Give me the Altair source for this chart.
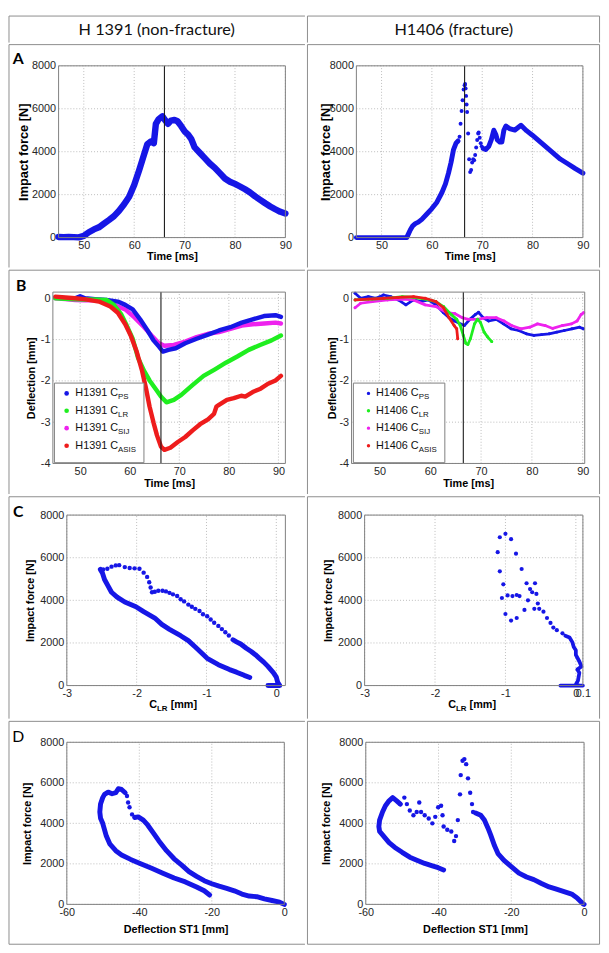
import altair as alt
import pandas as pd

# ------------------------------------------------------------------ data
# Panel A  - impact force [N] vs time [ms]
A_L_t = [45, 46, 47, 48, 49, 50, 51, 52, 53, 54, 55, 56, 57, 58, 59, 60, 61, 62,
         62.6, 63.3, 63.9, 64.3, 64.8, 65.6, 66.2, 66.7, 67.3, 68.0, 68.6, 69.3,
         70, 70.7, 71.3, 72, 73, 74, 75, 76, 77, 78, 79, 80, 81, 82, 83, 84, 85, 86, 87, 88, 89, 90]
A_L_F = [30, 20, 30, 20, 10, 80, 250, 380, 480, 650, 820, 1000, 1250, 1550, 1900, 2450, 3150, 3900,
         4350, 4480, 4400, 5300, 5500, 5650, 5450, 5300, 5450, 5480, 5420, 5200,
         4950, 4800, 4600, 4200, 3950, 3700, 3450, 3250, 3000, 2750, 2600, 2500, 2380, 2250, 2100, 1920,
         1760, 1600, 1450, 1320, 1200, 1120]

A_R_t1 = [45, 47, 49, 51, 53, 55, 55.3, 55.7, 56.2, 56.7, 57.3, 58, 59, 60, 61, 62, 62.7, 63.3, 63.8, 64.3, 64.8, 65.2]
A_R_F1 = [0, 0, 0, 0, 0, 0, 150, 350, 550, 650, 720, 850, 1100, 1350, 1650, 2100, 2500, 3000, 3500, 4100, 4400, 4500]
A_R_t2 = [65.5, 65.7, 65.9, 66.1, 66.3, 66.5, 66.6, 66.7, 66.8, 66.9, 67.0, 67.2, 67.4, 67.6, 67.8, 68.0,
          68.2, 68.4, 68.6, 68.8, 69.0, 69.2, 69.3, 69.5, 69.7, 69.9]
A_R_F2 = [4700, 5300, 5900, 6400, 6900, 7100, 7150, 6950, 6600, 6200, 5850, 4850, 3650, 3050, 3150, 3500,
          3650, 3600, 3850, 4200, 4550, 4850, 4900, 4650, 4400, 4250]
A_R_t3 = [70.2, 70.7, 71.3, 71.8, 72.3, 72.7, 73.0, 73.5, 73.9, 74.3, 74.7, 75.4, 76.5, 77.7, 78.8, 79.9,
          81.0, 82.5, 84.0, 85.5, 87.0, 88.5, 90.0]
A_R_F3 = [4150, 4100, 4250, 4550, 5000, 4800, 4550, 4450, 4450, 5000, 5200, 5080, 5010, 5230, 4980, 4780,
          4560, 4260, 3960, 3660, 3440, 3210, 3000]

# Panel B  - deflection [mm] vs time [ms]
B_L_PS_t = [45, 47, 49, 50, 51, 53, 55.3, 57.6, 59.1, 60.6, 62.1, 63.6, 64.8, 65.9, 66.7, 67.8, 69.3, 71.2,
            73.5, 75.8, 78, 80.3, 82.6, 84.8, 87.1, 89.4, 90.5]
B_L_PS_v = [0.02, 0, 0, 0.05, 0, -0.02, -0.04, -0.08, -0.16, -0.27, -0.51, -0.78, -1.02, -1.17, -1.29, -1.25,
            -1.21, -1.09, -0.98, -0.88, -0.78, -0.70, -0.59, -0.51, -0.43, -0.41, -0.45]
B_L_SIJ_t = [45, 47, 49, 51, 53, 54.5, 56.8, 59.1, 61.0, 62.9, 64.4, 65.9, 67.0, 68.9, 71.2, 73.5, 75.8, 78.0,
             80.3, 82.6, 84.8, 87.1, 89.4, 90.5]
B_L_SIJ_v = [0.0, -0.02, -0.04, -0.05, -0.05, -0.06, -0.16, -0.27, -0.47, -0.70, -0.90, -1.09, -1.15, -1.13,
             -1.05, -0.94, -0.86, -0.82, -0.74, -0.66, -0.63, -0.61, -0.59, -0.61]
B_L_LR_t = [45, 48, 51, 53, 55.3, 56.8, 58.3, 59.4, 60.6, 61.7, 62.9, 64.0, 65.2, 66.3, 67.4, 68.9, 70.4, 72.6,
            74.9, 77.2, 79.4, 81.7, 84.0, 86.3, 88.6, 90.5]
B_L_LR_v = [0.0, -0.02, -0.03, -0.03, -0.04, -0.16, -0.39, -0.66, -0.98, -1.45, -1.76, -1.99, -2.19, -2.38,
            -2.52, -2.46, -2.34, -2.11, -1.88, -1.72, -1.56, -1.41, -1.25, -1.13, -1.02, -0.90]
B_L_ASIS_t = [45, 47, 49, 50.8, 53.8, 56.1, 57.6, 59.1, 60.2, 61.4, 62.5, 63.3, 64.0, 64.8, 65.5, 66.3, 67.0,
              68.2, 69.7, 71.2, 72.7, 74.2, 75.8, 77.0, 77.5, 78.0, 79.6, 81.0, 82.5, 83.3, 84.8, 86.4, 87.9,
              89.4, 90.5]
B_L_ASIS_v = [0.04, 0.02, 0.0, -0.02, -0.08, -0.20, -0.35, -0.63, -0.90, -1.29, -1.76, -2.19, -2.62, -3.01,
              -3.32, -3.59, -3.67, -3.62, -3.48, -3.36, -3.20, -3.05, -2.93, -2.80, -2.62, -2.58, -2.46, -2.42,
              -2.36, -2.38, -2.27, -2.19, -2.07, -1.99, -1.88]

B_R_PS_t = [45.2, 46.3, 47.8, 49.3, 50.8, 52.2, 53.7, 55.2, 56.7, 58.2, 59.6, 61.1, 62.6, 63.7, 64.8, 65.9,
            66.7, 67.8, 68.9, 69.5, 70.4, 71.5, 73.0, 74.4, 75.9, 77.4, 78.9, 80.4, 81.9, 83.4, 84.9, 86.4,
            87.9, 89.4, 90.1]
B_R_PS_v = [0.12, 0.0, 0.04, 0.0, 0.08, 0.04, -0.04, -0.16, -0.04, -0.08, -0.04, -0.16, -0.35, -0.47, -0.55,
            -0.62, -0.66, -0.51, -0.39, -0.34, -0.47, -0.55, -0.51, -0.62, -0.74, -0.78, -0.86, -0.90, -0.88,
            -0.86, -0.82, -0.78, -0.74, -0.70, -0.74]
B_R_SIJ_t = [45.2, 46.3, 48.6, 51.6, 54.5, 56.7, 59.0, 61.1, 63.3, 64.8, 66.3, 67.4, 69.3, 71.1, 73.0, 74.5,
             76.0, 77.8, 79.6, 81.1, 82.6, 84.1, 86.0, 87.8, 88.9, 89.7, 90.2]
B_R_SIJ_v = [-0.23, -0.12, -0.08, -0.04, -0.02, -0.04, -0.16, -0.20, -0.35, -0.37, -0.47, -0.51, -0.51, -0.47,
             -0.47, -0.55, -0.66, -0.74, -0.70, -0.62, -0.66, -0.73, -0.66, -0.62, -0.55, -0.39, -0.35]
B_R_LR_t = [45.2, 48.6, 51.6, 54.5, 56.7, 59.0, 61.1, 62.6, 64.1, 65.2, 65.9, 66.5, 67.0, 67.4, 67.9, 68.7,
            69.3, 69.9, 70.6, 71.3, 72.1]
B_R_LR_v = [-0.04, -0.02, 0.0, 0.04, 0.02, -0.02, -0.08, -0.20, -0.39, -0.51, -0.66, -0.90, -1.09, -1.12,
            -0.98, -0.62, -0.51, -0.59, -0.82, -0.94, -1.05]
B_R_ASIS_t = [45.2, 47.8, 50.8, 53.7, 56.7, 59.0, 61.1, 62.6, 63.7, 64.7, 65.2, 65.4]
B_R_ASIS_v = [-0.04, -0.02, 0.0, 0.02, 0.04, 0.0, -0.08, -0.23, -0.47, -0.66, -0.74, -0.98]

# Panel C  - impact force [N] vs C_LR [mm]
C_L_x1 = [-2.52, -2.49, -2.46, -2.41, -2.36, -2.28, -2.17, -2.01, -1.90, -1.74, -1.64, -1.53, -1.37, -1.26,
          -1.16, -0.99, -0.83, -0.67, -0.57, -0.46, -0.38]
C_L_y1 = [5450, 5280, 4980, 4680, 4380, 4150, 3920, 3700, 3470, 3170, 2870, 2640, 2340, 2110, 1810, 1280,
          980, 750, 630, 480, 380]
C_L_x2 = [-0.12, -0.05, 0.0, 0.05, 0.02, 0.0, -0.04, -0.08, -0.12, -0.18, -0.25, -0.30, -0.36, -0.43, -0.51,
          -0.57, -0.62]
C_L_y2 = [0, 0, 0, 0, 150, 400, 600, 750, 900, 1100, 1300, 1450, 1600, 1750, 1950, 2050, 2150]
C_L_xd = [-0.68, -0.73, -0.78, -0.83, -0.89, -0.94, -0.99, -1.05, -1.10, -1.16, -1.21, -1.26, -1.32, -1.37,
          -1.42, -1.48, -1.53, -1.58, -1.63, -1.69, -1.74, -1.78, -1.80, -1.82, -1.85, -1.90, -1.96, -2.03,
          -2.10, -2.17, -2.25, -2.30, -2.36, -2.42, -2.48]
C_L_yd = [2350, 2500, 2650, 2800, 2950, 3100, 3250, 3350, 3500, 3600, 3700, 3800, 3950, 4050, 4200, 4280,
          4350, 4420, 4450, 4450, 4400, 4380, 4600, 4850, 5100, 5300, 5480, 5500, 5520, 5560, 5650, 5640,
          5580, 5480, 5450]

C_R_x1 = [-0.22, -0.1, 0.0, 0.1, 0.05, 0.0, 0.03, 0.05, 0.02, 0.08, 0.05, 0.0, 0.0, -0.03, -0.05, -0.09, -0.15]
C_R_y1 = [0, 0, 0, 0, 0, 50, 230, 600, 750, 900, 1130, 1440, 1660, 1810, 2040, 2260, 2340]
C_R_xd = [-0.19, -0.27, -0.32, -0.36, -0.41, -0.46, -0.52, -0.59, -0.54, -0.56, -0.62, -0.65, -0.58, -0.70,
          -0.68, -0.73, -0.77, -0.85, -0.92, -1.0, -1.08, -1.11, -1.08, -1.05, -1.03, -0.97, -0.90, -0.84,
          -0.80, -0.84, -0.92, -1.0]
C_R_yd = [2450, 2600, 2720, 2940, 3170, 3470, 3600, 3600, 3850, 4300, 4380, 4530, 4800, 4800, 4000, 3550,
          5470, 6190, 6870, 7120, 6960, 6260, 5360, 4110, 4750, 4230, 4200, 4250, 4200, 3170, 3050, 3360]

# Panel D  - impact force [N] vs deflection ST1 [mm]
D_L_x1 = [0, -1.3, -3.4, -5.5, -7.6, -9.7, -11.7, -13.8, -15.9, -18.0, -20.0, -22.1, -24.2, -26.3, -28.3,
          -30.4, -32.5, -34.6, -36.1, -37.7, -38.9, -40.3, -41.3]
D_L_y1 = [0, 110, 190, 270, 380, 410, 510, 670, 790, 900, 1020, 1170, 1380, 1620, 1940, 2250, 2650, 3130,
          3520, 3920, 4160, 4320, 4290]
D_L_xd = [-42.0, -42.7, -43.1, -43.4]
D_L_yd = [4440, 4790, 5030, 5350]
D_L_x2 = [-43.9, -44.9, -45.8, -46.5, -47.5, -48.6, -49.6, -50.1, -50.7, -50.9, -50.7, -50.1, -49.1, -48.1,
          -46.5, -44.9, -42.4, -39.8, -36.6, -33.5, -30.4, -27.3, -24.2, -22.1, -20.6]
D_L_y2 = [5510, 5670, 5710, 5510, 5460, 5540, 5430, 5270, 4950, 4560, 4250, 4000, 3370, 2970, 2650, 2440,
          2220, 2020, 1780, 1540, 1300, 1110, 860, 670, 460]

D_R_x1 = [0, -0.3, -1.9, -3.4, -5.5, -7.6, -9.6, -11.7, -13.8, -15.8, -17.9, -20.0, -22.0, -23.6, -24.6,
          -25.7, -26.4, -27.4, -28.4, -29.8]
D_R_y1 = [0, 30, 320, 510, 630, 750, 860, 1030, 1220, 1350, 1540, 1860, 2170, 2490, 2890, 3440, 3760, 4160,
          4400, 4510]
D_R_xd = [-30.5, -30.8, -31.3, -31.9, -32.4, -32.9, -33.4, -33.9, -34.1, -34.7, -35.2, -35.7, -36.5, -37.6,
          -38.6, -38.9, -39.3, -40.1, -40.9, -41.7, -42.7, -43.8, -44.8, -45.3, -46.0, -46.9, -47.9, -48.7,
          -49.4, -50.5]
D_R_yd = [4560, 4950, 5510, 6220, 6920, 7170, 7090, 6380, 5430, 4160, 3370, 3130, 3600, 3680, 3840, 4400,
          4870, 4790, 4320, 4000, 4240, 4400, 4560, 5030, 4560, 4400, 4630, 4950, 5270, 4950]
D_R_x2 = [-50.5, -51.5, -52.6, -53.6, -54.6, -55.4, -56.2, -56.4, -56.2, -55.1, -53.6, -52.0, -50.0, -47.9,
          -45.8, -43.8, -41.7, -40.1, -38.6]
D_R_y2 = [4950, 5110, 5270, 5110, 4870, 4560, 4160, 3840, 3600, 3370, 3050, 2810, 2570, 2330, 2170, 2020,
          1900, 1810, 1700]

# Text
HEAD_L = "H 1391 (non-fracture)"
HEAD_R = "H1406 (fracture)"
T_TIME = "Time [ms]"
T_FORCE = "Impact force [N]"
T_DEFL = "Deflection [mm]"
T_ST1 = "Deflection ST1 [mm]"
LEG_SUBS = ["PS", "LR", "SIJ", "ASIS"]

# ------------------------------------------------------------------ style
BLUE, GREEN, MAGENTA, RED = "#1616e6", "#1fee1f", "#ee22ee", "#ee1c1c"
FRAME = "#7f7f7f"
GRIDC = "#bcbcbc"
CELLC = "#8c8c8c"
LABEL_C = "#262626"
AX_FONT = "Liberation Sans"
HEAD_FONT = "Lato"
SX = 597 / 607.0
SY = 932 / 951.5
DUMMY = pd.DataFrame({"d": [0]})
LABEL_EXPR = "replace(datum.label, '\u2212', '-')"


def seg_frame(segments):
    rows = []
    for sid, (kind, xs, ys) in enumerate(segments):
        for x, y in zip(xs, ys):
            rows.append({"x": x, "y": y, "seg": sid, "kind": kind, "idx": len(rows)})
    return pd.DataFrame(rows)


def rule(x1, y1, x2, y2, color=CELLC, width=1):
    return alt.Chart(DUMMY).mark_rule(color=color, strokeWidth=width).encode(
        x=alt.value(x1), x2=alt.value(x2), y=alt.value(y1), y2=alt.value(y2))


def text(t, x, y, size, weight="normal", font=AX_FONT, align="left", color="#000"):
    return alt.Chart(DUMMY).mark_text(text=t, align=align, baseline="middle", font=font,
                                      fontSize=size, fontWeight=weight, color=color).encode(
        x=alt.value(x), y=alt.value(y))


def cell_lines(W, H, side, last):
    lines = [(0, 0, W, 0), (0, 0, 0, H)]
    if side == "R":
        lines.append((W, 0, W, H))
    if last:
        lines.append((0, H, W, H))
    return [rule(*l) for l in lines]


def build_panel(p):
    cx0, cy0, cx1, cy1 = p["cell"]
    W = (cx1 - cx0) * SX
    H = (cy1 - cy0) * SY

    def lx(X):
        return (X - cx0) * SX

    def ly(Y):
        return (Y - cy0) * SY

    px0, py0, px1, py1 = p["plot"]
    pl, pr, pt, pb = lx(px0), lx(px1), ly(py0), ly(py1)

    common = dict(format="~r", labelExpr=LABEL_EXPR, grid=False, domain=False, ticks=False,
                  labelFont=AX_FONT, labelFontSize=11, labelColor=LABEL_C, labelPadding=3,
                  labelFlush=False, labelOverlap=False)
    xkw = dict(common, values=p["xticks"], offset=pb - H, labelPadding=2)
    if p.get("xtitle"):
        xkw.update(title=p["xtitle"], titleFont=AX_FONT, titleFontSize=11, titleFontWeight="bold",
                   titleColor="#000", titleX=(pl + pr) / 2, titleY=ly(p["xtitle_y"]) - pb,
                   titleAlign="center", titleBaseline="middle")
    else:
        xkw["title"] = None
    ykw = dict(common, values=p["yticks"], offset=-pl, title=p["ytitle"], titleFont=AX_FONT,
               titleFontSize=p["ytitle_size"], titleFontWeight="bold", titleColor="#000",
               titleX=lx(p["ytitle_x"]) - pl, titleY=(pt + pb) / 2, titleAngle=270,
               titleAlign="center", titleBaseline="middle")
    X = alt.X("x:Q", scale=alt.Scale(domain=p["xdom"], range=[pl, pr], nice=False, zero=False),
              axis=alt.Axis(**xkw))
    Y = alt.Y("y:Q", scale=alt.Scale(domain=p["ydom"], range=[pb, pt], nice=False, zero=False),
              axis=alt.Axis(**ykw))
    x0, x1 = p["xdom"]
    y0, y1 = p["ydom"]

    layers = []
    # dotted grid at the tick values, drawn through the scales
    gx = pd.DataFrame({"x": p["xticks"], "y": [y0] * len(p["xticks"]), "y2": [y1] * len(p["xticks"])})
    gy = pd.DataFrame({"y": p["yticks"], "x": [x0] * len(p["yticks"]), "x2": [x1] * len(p["yticks"])})
    layers.append(alt.Chart(gx).mark_rule(color=GRIDC, strokeDash=[1, 2], strokeWidth=1).encode(
        x=X, y=Y, y2="y2:Q"))
    layers.append(alt.Chart(gy).mark_rule(color=GRIDC, strokeDash=[1, 2], strokeWidth=1).encode(
        x=X, x2="x2:Q", y=Y))

    for s in p["series"]:
        df = seg_frame(s["segments"])
        kinds = set(df["kind"])
        if "line" in kinds:
            layers.append(alt.Chart(df).transform_filter("datum.kind == 'line'").mark_line(
                color=s["color"], strokeWidth=s["lw"], strokeCap="round", strokeJoin="round").encode(
                x=X, y=Y, detail="seg:N", order="idx:Q"))
            if s.get("vdots"):
                layers.append(alt.Chart(df).transform_filter("datum.kind == 'line'").mark_circle(
                    color=s["color"], size=s["vdots"], opacity=1).encode(x=X, y=Y))
        if "dot" in kinds:
            layers.append(alt.Chart(df).transform_filter("datum.kind == 'dot'").mark_circle(
                color=s["color"], size=s.get("dot", 16), opacity=1).encode(x=X, y=Y))

    if p.get("vline") is not None:
        vdf = pd.DataFrame({"x": [p["vline"]], "y": [y0], "y2": [y1]})
        layers.append(alt.Chart(vdf).mark_rule(color="#1a1a1a", strokeWidth=1.1).encode(
            x=X, y=Y, y2="y2:Q"))

    # axes box
    fdf = pd.DataFrame({"x": [x0], "x2": [x1], "y": [y0], "y2": [y1]})
    layers.append(alt.Chart(fdf).mark_rect(fillOpacity=0, stroke=FRAME, strokeWidth=1).encode(
        x=X, x2="x2:Q", y=Y, y2="y2:Q"))

    # legend
    lg = p.get("legend")
    if lg:
        bx0, by0, bx1, by1 = lg["box"]
        layers.append(alt.Chart(DUMMY).mark_rect(fill="white", stroke=FRAME, strokeWidth=1).encode(
            x=alt.value(lx(bx0)), x2=alt.value(lx(bx1)), y=alt.value(ly(by0)), y2=alt.value(ly(by1))))
        for (col, sub), yy in zip(lg["entries"], lg["ys"]):
            layers.append(alt.Chart(DUMMY).mark_circle(color=col, size=lg["msize"], opacity=1).encode(
                x=alt.value(lx(lg["mx"])), y=alt.value(ly(yy))))
            layers.append(text(lg["name"] + " C", lx(lg["tx"]), ly(yy), 11, color="#111"))
            layers.append(text(sub, lx(lg["tx"]) + 43.4, ly(yy) + 4, 8, color="#111"))

    # x title with subscript
    if p.get("xtitle_sub"):
        cxm, yy = p["xtitle_sub"]
        xs0 = lx(cxm) - 24.3
        layers.append(text("C", xs0, ly(yy), 11, "bold"))
        layers.append(text("LR", xs0 + 7.9, ly(yy) + 3.5, 8, "bold"))
        layers.append(text("[mm]", xs0 + 7.9 + 10.7 + 3.1, ly(yy), 11, "bold"))

    # panel letter
    if p.get("letter"):
        t, X0, Y0, wt = p["letter"]
        layers.append(text(t, lx(X0), ly(Y0), 16, wt, font=HEAD_FONT, align="center"))

    layers += cell_lines(W, H, p["side"], p.get("last", False))
    return alt.layer(*layers).properties(width=W, height=H)


def build_header(side, label, cx0, cx1, xc):
    W = (cx1 - cx0) * SX
    H = (28 - 0.5) * SY
    layers = cell_lines(W, H, side, False)
    layers.append(text(label, (xc - cx0) * SX, (15 - 0.5) * SY, 16.5, font=HEAD_FONT,
                       align="center", color="#111"))
    return alt.layer(*layers).properties(width=W, height=H)


F_TICKS = [0, 2000, 4000, 6000, 8000]
T_TICKS = [50, 60, 70, 80, 90]
LCOL = (0.5, 306)
RCOL = (306, 607.5)

panels = {}
panels["AL"] = dict(
    side="L", cell=(LCOL[0], 28, LCOL[1], 259),
    plot=(51.7, 50, 285.8, 228), xdom=[45, 90], ydom=[0, 8000], xticks=T_TICKS, yticks=F_TICKS,
    xtitle=T_TIME, xtitle_y=248, ytitle=T_FORCE, ytitle_x=15.5, ytitle_size=13, vline=66.0,
    letter=("A", 10, 43, "bold"),
    series=[dict(color=BLUE, lw=6.5, segments=[("line", A_L_t, A_L_F)])])
panels["AR"] = dict(
    side="R", cell=(RCOL[0], 28, RCOL[1], 259),
    plot=(356.5, 50, 590.3, 228), xdom=[45, 90], ydom=[0, 8000], xticks=T_TICKS, yticks=F_TICKS,
    xtitle=T_TIME, xtitle_y=248, ytitle=T_FORCE, ytitle_x=324.3, ytitle_size=13, vline=66.5,
    series=[dict(color=BLUE, lw=5, dot=16, segments=[("line", A_R_t1, A_R_F1), ("dot", A_R_t2, A_R_F2),
                                                     ("line", A_R_t3, A_R_F3)])])
panels["BL"] = dict(
    side="L", cell=(LCOL[0], 259, LCOL[1], 491),
    plot=(45.8, 281.7, 285.8, 459.3), xdom=[44.5, 91.4], ydom=[-4, 0.15], xticks=T_TICKS,
    yticks=[-4, -3, -2, -1, 0], xtitle=T_TIME, xtitle_y=480.5, ytitle=T_DEFL, ytitle_x=24, ytitle_size=11,
    vline=66.3, letter=("B", 13, 275, "bold"),
    series=[dict(color=MAGENTA, lw=4.5, segments=[("line", B_L_SIJ_t, B_L_SIJ_v)]),
            dict(color=BLUE, lw=4.5, segments=[("line", B_L_PS_t, B_L_PS_v)]),
            dict(color=GREEN, lw=4.5, segments=[("line", B_L_LR_t, B_L_LR_v)]),
            dict(color=RED, lw=4.5, segments=[("line", B_L_ASIS_t, B_L_ASIS_v)])],
    legend=dict(box=(47.4, 376, 139.8, 458.5), mx=60, tx=69, msize=22, name="H1391",
                ys=[386.7, 404.7, 422.7, 441],
                entries=list(zip([BLUE, GREEN, MAGENTA, RED], LEG_SUBS))))
panels["BR"] = dict(
    side="R", cell=(RCOL[0], 259, RCOL[1], 491),
    plot=(351.5, 281.7, 592.2, 459.3), xdom=[44.5, 90.4], ydom=[-4, 0.15], xticks=T_TICKS,
    yticks=[-4, -3, -2, -1, 0], xtitle=T_TIME, xtitle_y=480.5, ytitle=T_DEFL, ytitle_x=332, ytitle_size=11,
    vline=66.5,
    series=[dict(color=BLUE, lw=2.8, vdots=9, segments=[("line", B_R_PS_t, B_R_PS_v)]),
            dict(color=MAGENTA, lw=2.8, vdots=9, segments=[("line", B_R_SIJ_t, B_R_SIJ_v)]),
            dict(color=GREEN, lw=2.8, vdots=9, segments=[("line", B_R_LR_t, B_R_LR_v)]),
            dict(color=RED, lw=2.8, vdots=9, segments=[("line", B_R_ASIS_t, B_R_ASIS_v)])],
    legend=dict(box=(353.4, 376, 447.8, 458.5), mx=369, tx=376.7, msize=12, name="H1406",
                ys=[386.7, 404.7, 422.7, 441],
                entries=list(zip([BLUE, GREEN, MAGENTA, RED], LEG_SUBS))))
panels["CL"] = dict(
    side="L", cell=(LCOL[0], 491, LCOL[1], 721),
    plot=(60.2, 510, 285.8, 686.7), xdom=[-3, 0.13], ydom=[0, 8000], xticks=[-3, -2, -1, 0],
    yticks=F_TICKS, xtitle=None, xtitle_sub=(170, 707), ytitle=T_FORCE, ytitle_x=23, ytitle_size=11,
    letter=("C", 10, 507, "bold"),
    series=[dict(color=BLUE, lw=5, dot=20, segments=[("line", C_L_x1, C_L_y1), ("line", C_L_x2, C_L_y2),
                                                     ("dot", C_L_xd, C_L_yd)])])
panels["CR"] = dict(
    side="R", cell=(RCOL[0], 491, RCOL[1], 721),
    plot=(365, 510, 590.3, 686.7), xdom=[-3, 0.1], ydom=[0, 8000], xticks=[-3, -2, -1, 0, 0.1],
    yticks=F_TICKS, xtitle=None, xtitle_sub=(476, 707), ytitle=T_FORCE, ytitle_x=328, ytitle_size=11,
    series=[dict(color=BLUE, lw=3.8, dot=18, segments=[("line", C_R_x1, C_R_y1), ("dot", C_R_xd, C_R_yd)])])
panels["DL"] = dict(
    side="L", cell=(LCOL[0], 721, LCOL[1], 952), last=True,
    plot=(60.2, 742.7, 284.7, 910.7), xdom=[-60, 0], ydom=[0, 8000], xticks=[-60, -40, -20, 0],
    yticks=F_TICKS, xtitle=T_ST1, xtitle_y=937, ytitle=T_FORCE, ytitle_x=19.4, ytitle_size=11,
    letter=("D", 10, 737, "normal"),
    series=[dict(color=BLUE, lw=5, dot=20, segments=[("line", D_L_x1, D_L_y1), ("dot", D_L_xd, D_L_yd),
                                                     ("line", D_L_x2, D_L_y2)])])
panels["DR"] = dict(
    side="R", cell=(RCOL[0], 721, RCOL[1], 952), last=True,
    plot=(366.2, 742.7, 591.5, 910.7), xdom=[-60, 0], ydom=[0, 8000], xticks=[-60, -40, -20, 0],
    yticks=F_TICKS, xtitle=T_ST1, xtitle_y=937, ytitle=T_FORCE, ytitle_x=326, ytitle_size=11,
    series=[dict(color=BLUE, lw=5, dot=20, segments=[("line", D_R_x1, D_R_y1), ("dot", D_R_xd, D_R_yd),
                                                     ("line", D_R_x2, D_R_y2)])])

header = alt.hconcat(build_header("L", HEAD_L, LCOL[0], LCOL[1], 153),
                     build_header("R", HEAD_R, RCOL[0], RCOL[1], 457), spacing=0)
rows = [alt.hconcat(build_panel(panels[r + "L"]), build_panel(panels[r + "R"]), spacing=0)
        for r in "ABCD"]

chart = alt.vconcat(header, *rows, spacing=0).properties(
    padding=0, background="white"
).configure_view(stroke="transparent")

chart.save("out.html", embed_options={"renderer": "svg", "actions": False})
